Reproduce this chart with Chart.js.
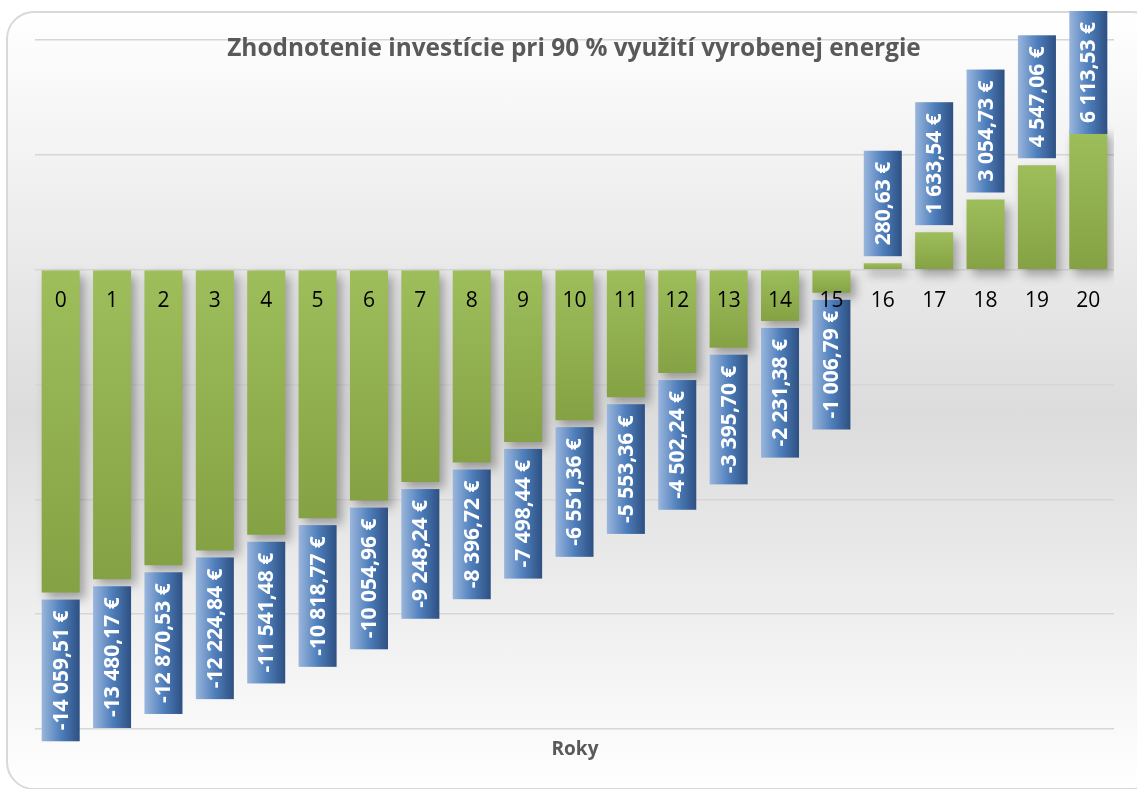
<!DOCTYPE html>
<html>
<head>
<meta charset="utf-8">
<script src="https://cdn.jsdelivr.net/npm/chart.js@4/dist/chart.umd.min.js"></script>
<style>
  html, body { margin: 0; padding: 0; background: #fff; overflow: hidden; }
  #frame {
    position: absolute; left: 6px; top: 11px; width: 1150px; height: 775px;
    border: 2px solid #d9d9d9; border-radius: 28px;
    background: linear-gradient(#ffffff 0%, #dcdcdc 52%, #ffffff 100%);
  }
  #chart { position: absolute; left: 0; top: 0; }
</style>
</head>
<body>
<div id="frame"></div>
<canvas id="chart" width="1137" height="789"></canvas>
<script>
const years = ["0", "1", "2", "3", "4", "5", "6", "7", "8", "9", "10",
  "11", "12", "13", "14", "15", "16", "17", "18", "19", "20"];
const balance = [-14059.51, -13480.17, -12870.53, -12224.84, -11541.48, -10818.77,
  -10054.96, -9248.24, -8396.72, -7498.44, -6551.36, -5553.36, -4502.24, -3395.70,
  -2231.38, -1006.79, 280.63, 1633.54, 3054.73, 4547.06, 6113.53];
const chartTitle = "Zhodnotenie investície pri 90 % využití vyrobenej energie";
const axisTitle = "Roky";

function fmt(v) {
  const parts = Math.abs(v).toFixed(2).split(".");
  const int = parts[0].replace(/\B(?=(\d{3})+(?!\d))/g, " ");
  return (v < 0 ? "-" : "") + int + "," + parts[1] + " €";
}

function barFill(ctx) {
  const chart = ctx.chart;
  if (!chart.chartArea) return "#94b450";
  const y = chart.scales.y;
  const a = y.getPixelForValue(ctx.raw);
  const b = y.getPixelForValue(0);
  const top = Math.min(a, b), bottom = Math.max(a, b);
  const g = chart.ctx.createLinearGradient(0, top, 0, bottom + 1);
  g.addColorStop(0, "#9ebd5b");
  g.addColorStop(1, "#84a243");
  return g;
}

const shadowPlugin = {
  id: "shadow",
  beforeDatasetsDraw(chart) {
    const c = chart.ctx;
    c.save();
    c.shadowColor = "rgba(0,0,0,0.32)";
    c.shadowBlur = 10;
    c.shadowOffsetX = 5;
    c.shadowOffsetY = 6;
  },
  afterDatasetsDraw(chart) {
    chart.ctx.restore();
  }
};

const labelPlugin = {
  id: "labels",
  afterDatasetsDraw(chart) {
    const c = chart.ctx;
    const zero = chart.scales.y.getPixelForValue(0);
    const meta = chart.getDatasetMeta(0);
    c.save();
    meta.data.forEach((bar, i) => {
      const v = balance[i];
      const text = fmt(v);
      c.font = "bold 21px 'Open Sans'";
      const len = c.measureText(text).width + 22;
      const w = bar.width;
      let top, bottom;
      if (v < 0) {
        top = bar.y + 7;
        bottom = top + len;
      } else {
        bottom = bar.y - 7;
        top = bottom - len;
        if (top < 11) { top = 11; bottom = top + len; }
      }
      const left = bar.x - w / 2;
      const g = c.createLinearGradient(left, 0, left + w, 0);
      g.addColorStop(0, "#9ab6dc");
      g.addColorStop(0.5, "#4f7fbc");
      g.addColorStop(1, "#2d5082");
      c.fillStyle = g;
      c.fillRect(left, top, w, bottom - top);

      c.save();
      c.translate(bar.x, (top + bottom) / 2);
      c.rotate(-Math.PI / 2);
      c.fillStyle = "#ffffff";
      c.textAlign = "center";
      c.textBaseline = "middle";
      c.fillText(text, 0, 1);
      c.restore();

      c.font = "21px 'Open Sans'";
      c.fillStyle = "#000000";
      c.textAlign = "center";
      c.textBaseline = "middle";
      c.fillText(years[i], bar.x, zero + 31);
    });

    c.fillStyle = "#595959";
    c.textAlign = "center";
    c.textBaseline = "middle";
    c.font = "bold 24.4px 'Open Sans'";
    c.fillText(chartTitle, 574, 49);
    c.font = "bold 19px 'Open Sans'";
    c.fillText(axisTitle, 575, 750);
    c.restore();
  }
};

new Chart(document.getElementById("chart"), {
  type: "bar",
  data: {
    labels: years,
    datasets: [{
      data: balance,
      backgroundColor: barFill,
      borderWidth: 0,
      barPercentage: 0.74,
      categoryPercentage: 1
    }]
  },
  options: {
    responsive: false,
    animation: false,
    layout: { padding: { left: 35, right: 23, top: 40, bottom: 60 } },
    plugins: { legend: { display: false }, tooltip: { enabled: false } },
    scales: {
      x: { display: false },
      y: {
        min: -20000,
        max: 10000,
        ticks: { display: false, stepSize: 5000 },
        border: { display: false },
        grid: { color: "#d6d6d6", lineWidth: 1.5, drawTicks: false }
      }
    }
  },
  plugins: [shadowPlugin, labelPlugin]
});
</script>
</body>
</html>
